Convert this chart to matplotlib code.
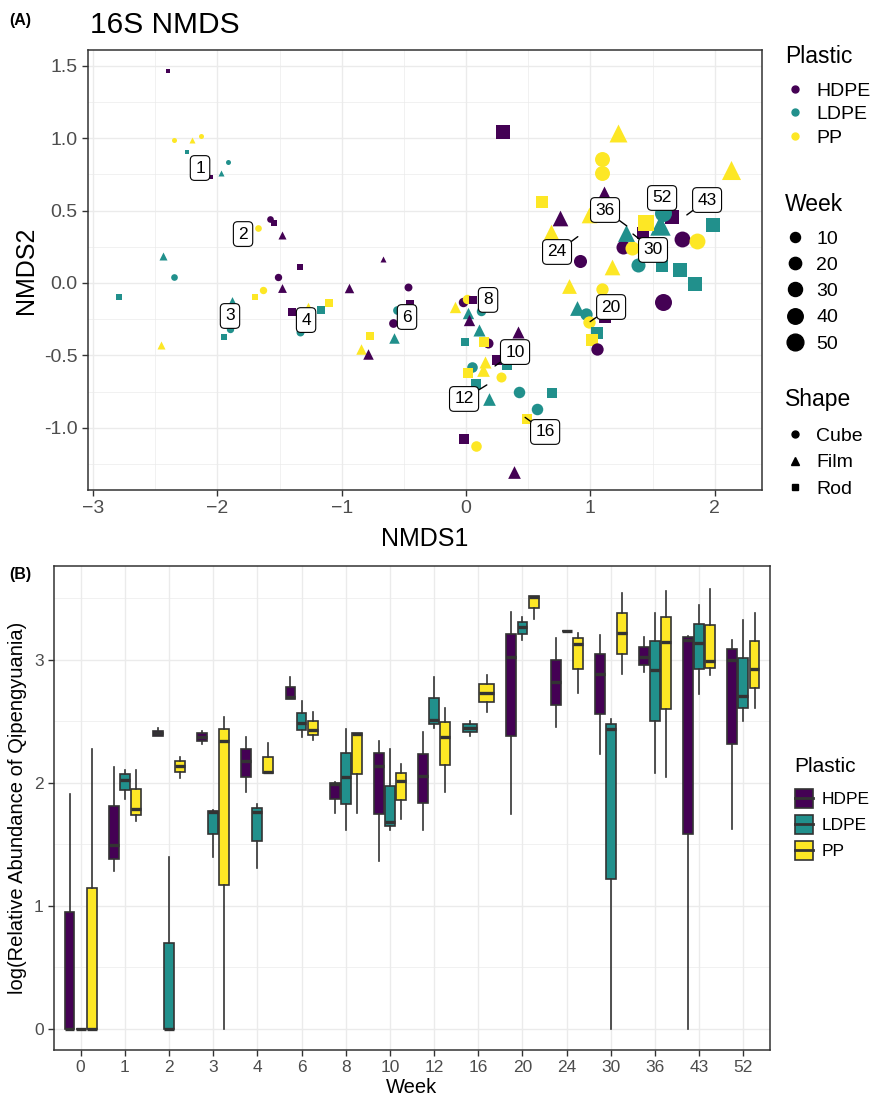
import numpy as np
import matplotlib.pyplot as plt
from matplotlib.lines import Line2D
from matplotlib.patches import Patch, Rectangle
from matplotlib.legend_handler import HandlerBase

plt.rcParams['font.family'] = ['Liberation Sans', 'DejaVu Sans']

plastic_names = {'H': 'HDPE', 'L': 'LDPE', 'P': 'PP'}
plastic_cols = {'H': '#440154', 'L': '#21908C', 'P': '#FDE725'}
shape_names = {'C': 'Cube', 'F': 'Film', 'R': 'Rod'}
shape_mark = {'C': 'o', 'F': '^', 'R': 's'}
shape_scale = {'C': 1.0, 'F': 1.2, 'R': 0.9}

# ---- NMDS points ----
pt_week = [1]*9 + [2]*8 + [3]*8 + [4]*7 + [6]*7 + [8]*8 + [10]*8 + [12]*8 + [16]*4 \
    + [20]*9 + [24]*6 + [30]*6 + [36]*6 + [43]*6 + [52]*4
pt_plastic = list('HPPPLLLHH' 'HHHPLLLP' 'HHHPPLLL' 'HPLLPHH' 'HLHLPPH' 'PHPHLHLL'
                  'HHLPPLHP' 'LPLLHPHP' 'LLLP' 'LLPHLPHPP' 'HPPHPP' 'HPLHLL'
                  'HPPPHL' 'LHPLPH' 'LLPH')
pt_shape = list('RCFCRCFRF' 'CRFCFCRF' 'RCFCRFCR' 'RFCRRFC' 'RCCFRFF' 'FCCRFFCR'
                'FRRCFFCR' 'CRRFRCFF' 'CRCR' 'FCCRRRCFC' 'FFRCFF' 'CCFRCR'
                'FCCFRR' 'RCCRFR' 'CFRC')
nmds1 = [-2.395, -2.347, -2.202, -2.134, -2.242, -1.917, -1.971, -2.054, -0.670,
         -1.577, -1.542, -1.480, -1.671, -2.435, -2.347, -2.789, -2.451,
         -1.335, -1.512, -1.483, -1.636, -1.695, -1.883, -1.896, -1.944,
         -1.400, -1.274, -1.335, -1.169, -1.105, -0.944, -0.467,
         -0.448, -0.553, -0.585, -0.582, -0.770, -0.847, -0.786,
         -0.091, -0.027, 0.010, 0.059, 0.014, 0.024, 0.123, -0.008,
         0.416, 0.247, 0.327, 0.282, 0.153, 0.105, 0.175, 0.147,
         0.046, 0.019, 0.080, 0.185, -0.014, 0.080, 0.389, 0.139,
         0.426, 0.692, 0.569, 0.488,
         0.891, 0.963, 0.990, 1.118, 1.056, 1.011, 1.051, 0.831, 1.092,
         0.756, 0.684, 0.609, 0.917, 1.177, 0.990,
         1.265, 1.338, 1.285, 1.426, 1.381, 1.574,
         1.113, 1.092, 1.097, 1.225, 0.295, 1.722,
         1.990, 1.740, 1.861, 1.842, 2.130, 1.655,
         1.587, 1.561, 1.448, 1.587]
nmds2 = [1.462, 0.986, 0.986, 1.013, 0.905, 0.838, 0.762, 0.732, 0.168,
         0.442, 0.412, 0.329, 0.378, 0.189, 0.044, -0.097, -0.428,
         0.108, 0.039, -0.038, -0.046, -0.097, -0.122, -0.318, -0.375,
         -0.198, -0.168, -0.336, -0.186, -0.136, -0.038, -0.028,
         -0.145, -0.186, -0.278, -0.378, -0.366, -0.458, -0.488,
         -0.166, -0.129, -0.114, -0.117, -0.209, -0.256, -0.191, -0.405,
         -0.340, -0.532, -0.566, -0.647, -0.544, -0.325, -0.416, -0.405,
         -0.577, -0.624, -0.698, -0.803, -1.079, -1.126, -1.303, -0.601,
         -0.751, -0.760, -0.870, -0.941,
         -0.175, -0.216, -0.267, -0.233, -0.347, -0.394, -0.456, -0.024, -0.041,
         0.447, 0.354, 0.561, 0.152, 0.113, 0.470,
         0.251, 0.240, 0.347, 0.343, 0.124, 0.119,
         0.608, 0.854, 0.758, 1.034, 1.045, 0.090,
         0.401, 0.302, 0.290, -0.009, 0.780, 0.458,
         0.481, 0.401, 0.416, -0.129]

# week labels (ggrepel) : label position and the point it refers to
lab_week = [1, 2, 3, 4, 6, 8, 10, 12, 16, 20, 24, 30, 36, 43, 52]
lab_x = [-2.140, -1.794, -1.899, -1.287, -0.475, 0.177, 0.394, -0.016, 0.636,
         1.167, 0.732, 1.504, 1.118, 1.939, 1.577]
lab_y = [0.794, 0.338, -0.228, -0.256, -0.235, -0.117, -0.477, -0.801, -1.029,
         -0.166, 0.214, 0.228, 0.504, 0.573, 0.587]
anchor_x = [None, None, None, None, None, None, 0.233, 0.167, 0.475,
            0.998, 0.899, 1.343, 1.293, 1.776, None]
anchor_y = [None, None, None, None, None, None, -0.573, -0.704, -0.928,
            -0.267, 0.320, 0.338, 0.394, 0.470, None]

# ---- boxplot summaries, log(relative abundance of Qipengyuania) ----
weeks = ['0', '1', '2', '3', '4', '6', '8', '10', '12', '16', '20', '24', '30', '36', '43', '52']
hdpe = {
    'whislo': [0, 1.285, 2.382, 2.314, 1.930, 2.680, 1.753, 1.366, 1.615, None, 1.745, 2.455, 2.236, 2.900, 0, 1.626],
    'q1':     [0, 1.382, 2.382, 2.344, 2.051, 2.680, 1.867, 1.751, 1.835, None, 2.379, 2.634, 2.558, 2.957, 1.585, 2.314],
    'med':    [0, 1.493, 2.404, 2.371, 2.176, 2.695, 1.992, 2.138, 2.060, None, 3.027, 2.818, 2.886, 3.022, 3.165, 3.003],
    'q3':     [0.954, 1.816, 2.425, 2.404, 2.279, 2.780, 2.003, 2.241, 2.236, None, 3.211, 3.000, 3.046, 3.106, 3.190, 3.087],
    'whishi': [1.908, 2.127, 2.444, 2.423, 2.371, 2.859, 2.011, 2.341, 2.415, None, 3.393, 3.182, 3.203, 3.184, 3.198, 3.163],
}
ldpe = {
    'whislo': [0, 1.867, 0, 1.401, 1.306, 2.377, 1.618, 1.618, 2.450, 2.385, 3.160, 3.238, 0, 2.079, 2.724, 2.507],
    'q1':     [0, 1.943, 0, 1.583, 1.531, 2.431, 1.832, 1.648, 2.480, 2.415, 3.209, 3.238, 1.220, 2.501, 2.927, 2.607],
    'med':    [0, 2.024, 0, 1.762, 1.764, 2.485, 2.049, 1.686, 2.512, 2.444, 3.266, 3.238, 2.439, 2.919, 3.136, 2.710],
    'q3':     [0, 2.070, 0.702, 1.775, 1.794, 2.572, 2.244, 1.978, 2.688, 2.477, 3.312, 3.238, 2.480, 3.152, 3.290, 3.016],
    'whishi': [0, 2.106, 1.398, 1.780, 1.827, 2.667, 2.436, 2.274, 2.859, 2.507, 3.352, 3.238, 2.518, 3.385, 3.447, 3.325],
}
pp = {
    'whislo': [0, 1.694, 2.038, 0, 2.084, 2.350, 1.753, 1.705, 1.927, 2.580, 3.331, 2.734, 2.889, 2.051, 2.878, 2.612],
    'q1':     [0, 1.740, 2.089, 1.171, 2.084, 2.388, 2.073, 1.859, 2.144, 2.656, 3.420, 2.930, 3.051, 2.599, 2.932, 2.772],
    'med':    [0, 1.786, 2.138, 2.341, 2.089, 2.434, 2.396, 2.019, 2.371, 2.734, 3.515, 3.130, 3.220, 3.144, 2.989, 2.930],
    'q3':     [1.144, 1.949, 2.182, 2.442, 2.209, 2.504, 2.407, 2.084, 2.493, 2.808, 3.523, 3.176, 3.379, 3.352, 3.285, 3.157],
    'whishi': [2.280, 2.106, 2.214, 2.539, 2.322, 2.577, 2.407, 2.152, 2.612, 2.878, 3.523, 3.217, 3.542, 3.561, 3.580, 3.379],
}
box_groups = [('HDPE', '#440154', hdpe), ('LDPE', '#21908C', ldpe), ('PP', '#FDE725', pp)]

grid_col = '#EBEBEB'
edge = '#333333'
tick_col = '#4D4D4D'


def week_diam(w):
    # area-type size scale over weeks 1..52 -> marker diameter in pixels
    return 5.0 + 12.0 * np.sqrt((np.asarray(w, float) - 1) / 51)


def style_axes(ax):
    for s in ax.spines.values():
        s.set_color(edge)
        s.set_linewidth(1.1)
    ax.tick_params(colors=edge, labelcolor=tick_col, length=4, width=1)
    ax.grid(True, which='major', color=grid_col, lw=1.0, zorder=0)
    ax.grid(True, which='minor', color=grid_col, lw=0.5, zorder=0)
    ax.tick_params(which='minor', length=0)
    ax.set_axisbelow(True)


class BoxKey(HandlerBase):
    # box with a median bar, like a boxplot legend key
    def create_artists(self, legend, orig, xd, yd, width, height, fontsize, trans):
        r = Rectangle((-xd, -yd), width, height, facecolor=orig.get_facecolor(),
                      edgecolor=edge, lw=1.2, transform=trans)
        m = Line2D([-xd, -xd + width], [-yd + height / 2] * 2, color=edge, lw=2.0,
                   transform=trans)
        return [r, m]


def left_legend(handles, labels, top, title, fs, tfs, spacing, tsep, x=0.889, **kw):
    leg = fig.legend(handles, labels, loc='upper left', bbox_to_anchor=(x, top),
                     frameon=False, title=title, title_fontsize=tfs, fontsize=fs,
                     labelspacing=spacing, borderaxespad=0, borderpad=0, **kw)
    leg._legend_box.align = 'left'
    leg._legend_box.sep = tsep
    return leg


fig = plt.figure(figsize=(8.83, 10.99), dpi=100)

# ---------------- (A) NMDS ----------------
axA = fig.add_axes([0.0997, 0.5541, 0.7633, 0.4004])
style_axes(axA)
px2pt = 0.72
for x, y, p, s, w in zip(nmds1, nmds2, pt_plastic, pt_shape, pt_week):
    d = week_diam(w) * px2pt * shape_scale[s]
    axA.scatter(x, y, s=d ** 2, marker=shape_mark[s], color=plastic_cols[p],
                linewidths=0, zorder=3)

for i, w in enumerate(lab_week):
    box = dict(boxstyle='round,pad=0.28,rounding_size=0.25', fc='white', ec='black', lw=0.8)
    if anchor_x[i] is None:
        axA.text(lab_x[i], lab_y[i], str(w), ha='center', va='center', fontsize=12.5,
                 bbox=box, zorder=5)
    else:
        axA.annotate(str(w), xy=(anchor_x[i], anchor_y[i]), xytext=(lab_x[i], lab_y[i]),
                     ha='center', va='center', fontsize=12.5, bbox=box, zorder=5,
                     arrowprops=dict(arrowstyle='-', color='black', lw=1.0,
                                     shrinkA=0, shrinkB=0))

axA.set_xlim(-3.041, 2.381)
axA.set_ylim(-1.43, 1.609)
axA.set_xticks([-3, -2, -1, 0, 1, 2])
axA.set_xticks(np.arange(-2.5, 2.5, 1.0), minor=True)
axA.set_yticks([1.5, 1.0, 0.5, 0.0, -0.5, -1.0])
axA.set_yticklabels(['1.5', '1.0', '0.5', '0.0', '-0.5', '-1.0'])
axA.set_yticks([1.25, 0.75, 0.25, -0.25, -0.75, -1.25], minor=True)
axA.tick_params(labelsize=14)
axA.set_xlabel('NMDS1', fontsize=18, labelpad=7)
axA.set_ylabel('NMDS2', fontsize=18, labelpad=4)

fig.text(0.102, 0.977, '16S NMDS', fontsize=21.5, ha='left', va='center')
fig.text(0.011, 0.981, '(A)', fontsize=11.5, fontweight='bold', ha='left', va='center')

# legends for A
h_pl = [Line2D([], [], marker='o', ls='', color=plastic_cols[k], markersize=5)
        for k in 'HLP']
left_legend(h_pl, [plastic_names[k] for k in 'HLP'], 0.959, 'Plastic', 14, 16.5, 0.31, 10,
            handlelength=1.0, handletextpad=0.6)

wk_leg = [10, 20, 30, 40, 50]
h_wk = [Line2D([], [], marker='o', ls='', color='black',
               markersize=week_diam(w) * px2pt) for w in wk_leg]
left_legend(h_wk, [str(w) for w in wk_leg], 0.824, 'Week', 14, 16.5, 0.44, 10,
            handlelength=1.0, handletextpad=0.6)

h_sh = [Line2D([], [], marker=shape_mark[k], ls='', color='black',
               markersize=5 * shape_scale[k]) for k in 'CFR']
left_legend(h_sh, [shape_names[k] for k in 'CFR'], 0.647, 'Shape', 14, 16.5, 0.44, 12,
            handlelength=1.0, handletextpad=0.6)

# ---------------- (B) boxplots ----------------
axB = fig.add_axes([0.0612, 0.0446, 0.8108, 0.4404])
style_axes(axB)
for i, wk in enumerate(weeks):
    present = [(n, c, st) for n, c, st in box_groups if st['med'][i] is not None]
    k = len(present)
    slot = 0.75 / k
    for j, (n, c, st) in enumerate(present):
        pos = i - 0.375 + slot * (j + 0.5)
        stats = [dict(whislo=st['whislo'][i], q1=st['q1'][i], med=st['med'][i],
                      q3=st['q3'][i], whishi=st['whishi'][i], fliers=[])]
        axB.bxp(stats, positions=[pos], widths=slot * 0.9, patch_artist=True,
                showfliers=False, showcaps=False, manage_ticks=False,
                boxprops=dict(facecolor=c, edgecolor=edge, lw=1.2),
                medianprops=dict(color=edge, lw=2.4, solid_capstyle='butt'),
                whiskerprops=dict(color=edge, lw=1.2), zorder=3)

axB.set_xlim(-0.6, len(weeks) - 0.4)
axB.set_ylim(-0.171, 3.764)
axB.set_xticks(range(len(weeks)))
axB.set_xticklabels(weeks)
axB.set_yticks([0, 1, 2, 3])
axB.set_yticks([0.5, 1.5, 2.5, 3.5], minor=True)
axB.tick_params(labelsize=12.5)
axB.set_xlabel('Week', fontsize=14.5, labelpad=2)
axB.set_ylabel('log(Relative Abundance of Qipengyuania)', fontsize=14.5, labelpad=5)
fig.text(0.011, 0.477, '(B)', fontsize=11.5, fontweight='bold', ha='left', va='center')

h_box = [Patch(facecolor=c, edgecolor=edge, lw=1.2) for n, c, st in box_groups]
left_legend(h_box, [n for n, c, st in box_groups], 0.311, 'Plastic', 12.5, 15, 0.4, 9,
            x=0.9, handlelength=1.05, handleheight=1.31, handletextpad=0.5,
            handler_map={Patch: BoxKey()})

fig.savefig('out.png', dpi=100)
